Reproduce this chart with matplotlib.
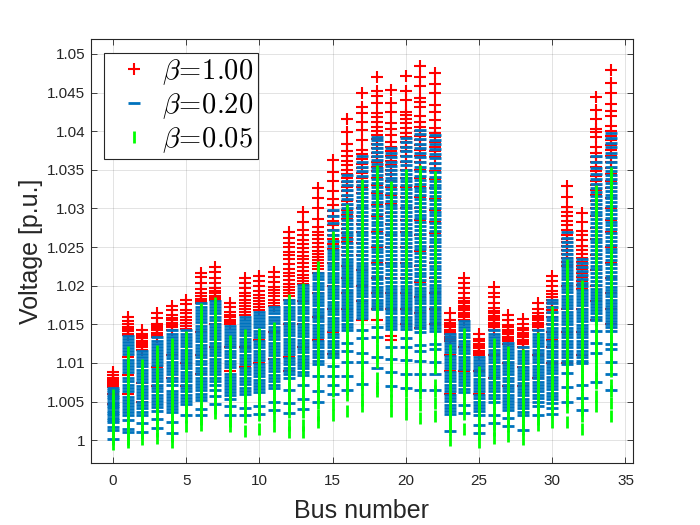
import numpy as np
import matplotlib
matplotlib.use('Agg')
import matplotlib.pyplot as plt

plt.rcParams['mathtext.fontset'] = 'cm'
plt.rcParams['font.family'] = ['Liberation Sans', 'DejaVu Sans']

# voltages stored as (V - 1) * 1e4, one list per bus (0..34)
buses = list(range(35))

red_pts = [
    [88, 84, 81, 79, 77, 75, 73, 71, 69, 60, 47],
    [160, 154, 150, 147, 144, 141, 138, 136, 108, 84, 60],
    [142, 138, 135, 132, 129, 126, 123, 120, 117, 74, 50],
    [165, 158, 151, 148, 145, 142, 139, 136, 133, 95, 70],
    [174, 168, 162, 158, 155, 152, 149, 146, 143, 110, 80],
    [182, 176, 169, 164, 160, 156, 152, 148, 144, 100, 70],
    [217, 211, 204, 196, 190, 186, 183, 180, 177, 140, 110, 85],
    [224, 218, 210, 203, 197, 193, 190, 187, 184, 181, 150, 120],
    [178, 172, 166, 162, 159, 156, 153, 150, 120, 90],
    [210, 204, 197, 190, 186, 182, 178, 174, 170, 166, 162, 120, 95],
    [212, 206, 200, 193, 188, 184, 180, 176, 172, 168, 130, 100],
    [218, 211, 205, 198, 194, 190, 186, 182, 178, 174, 140, 105],
    [270, 262, 255, 250, 244, 240, 235, 228, 222, 217, 212, 207, 202, 198, 194, 190, 186, 182, 150, 108, 90],
    [295, 283, 272, 265, 259, 254, 249, 244, 239, 234, 229, 224, 219, 214, 210, 206, 202, 180, 150, 120],
    [327, 314, 301, 286, 276, 270, 265, 260, 255, 250, 245, 241, 237, 233, 229, 225, 221, 217, 190, 160, 130],
    [363, 347, 336, 323, 312, 304, 297, 290, 284, 278, 272, 266, 260, 254, 248, 230, 200, 170, 140, 112],
    [416, 399, 384, 374, 368, 362, 356, 350, 345, 340, 334, 328, 322, 316, 310, 304, 298, 292, 286, 280,
     274, 268, 262, 256, 250, 240, 225, 210, 190, 170],
    [450, 432, 423, 412, 402, 389, 376, 370, 364, 358, 352, 346, 340, 334, 328, 320, 310, 300, 290, 280,
     270, 255, 240, 220, 200, 180, 155],
    [470, 452, 446, 437, 424, 418, 412, 405, 400, 395, 390, 384, 378, 372, 366, 360, 354, 348, 340, 330,
     320, 305, 290, 270, 250, 230, 210, 190, 170, 156],
    [454, 436, 425, 410, 403, 395, 386, 380, 374, 368, 362, 356, 350, 344, 336, 328, 318, 306, 294, 280,
     265, 250, 230, 210, 190, 170, 135, 130],
    [472, 452, 440, 425, 421, 416, 411, 404, 398, 392, 386, 380, 374, 368, 360, 350, 340, 328, 315, 300,
     285, 270, 250, 230, 210, 190, 170, 150],
    [485, 470, 458, 443, 438, 432, 420, 412, 406, 400, 394, 388, 382, 376, 368, 360, 350, 340, 328, 315,
     300, 285, 265, 245, 225, 205, 185, 165, 145],
    [476, 461, 449, 434, 425, 415, 404, 398, 392, 386, 380, 374, 366, 358, 348, 338, 326, 312, 298, 283,
     268, 250, 230, 210, 190, 170, 150],
    [165, 156, 152, 149, 146, 143, 140, 137, 134, 131, 128, 110, 90, 60],
    [210, 203, 197, 190, 184, 180, 177, 174, 171, 168, 165, 162, 159, 156, 120, 90],
    [138, 131, 128, 125, 122, 119, 116, 113, 110, 90, 60],
    [198, 191, 185, 178, 171, 167, 164, 161, 158, 155, 152, 149, 146, 143, 110, 80],
    [162, 155, 149, 146, 143, 140, 137, 134, 131, 128, 125, 100, 70],
    [157, 150, 145, 142, 139, 136, 133, 130, 127, 124, 121, 95, 70],
    [177, 170, 164, 161, 158, 155, 152, 149, 146, 143, 110, 80],
    [213, 206, 200, 193, 189, 185, 181, 177, 173, 169, 165, 160, 150, 140, 130, 120, 100],
    [329, 315, 302, 296, 290, 284, 278, 272, 266, 261, 256, 251, 246, 241, 236, 231, 226, 200, 170, 140, 100],
    [294, 283, 271, 266, 259, 252, 246, 241, 236, 231, 226, 221, 216, 211, 206, 201, 196, 170, 140, 110],
    [444, 428, 416, 403, 399, 392, 379, 372, 366, 360, 354, 348, 342, 336, 330, 324, 318, 310, 300, 290,
     275, 260, 240, 220, 200, 180, 155],
    [479, 462, 450, 435, 426, 420, 407, 400, 394, 388, 382, 376, 368, 360, 352, 344, 336, 326, 314, 300,
     285, 270, 250, 230, 210, 190, 170, 150],
]

blue_pts = [
    [67, 65, 62, 59, 56, 53, 50, 47, 44, 41, 38, 35, 32, 29, 26, 23, 17, 13, 2],
    [135, 131, 127, 123, 119, 115, 112, 104, 100, 96, 92, 88, 80, 76, 72, 68, 64, 56, 52, 48, 44, 40, 36, 32,
     26, 14, 10],
    [116, 112, 108, 104, 100, 96, 91, 87, 83, 79, 75, 70, 66, 62, 58, 54, 50, 46, 41, 37, 33, 22, 11],
    [133, 129, 125, 121, 117, 113, 109, 105, 101, 97, 92, 88, 84, 80, 76, 72, 68, 63, 59, 55, 51, 47, 43, 38,
     27, 16],
    [142, 138, 134, 130, 126, 122, 118, 114, 110, 106, 101, 97, 93, 89, 85, 81, 77, 72, 64, 60, 56, 52, 48,
     44, 40, 36, 23, 9],
    [142, 138, 134, 130, 126, 122, 117, 113, 109, 105, 101, 97, 93, 88, 84, 80, 76, 72, 68, 63, 59, 55, 51,
     47, 32],
    [177, 173, 169, 165, 161, 157, 153, 148, 144, 140, 136, 132, 128, 123, 119, 115, 111, 107, 102, 98, 94,
     90, 86, 81, 77, 73, 69, 65, 60, 56, 52, 40, 33],
    [180, 176, 172, 168, 164, 160, 156, 151, 147, 143, 139, 135, 131, 126, 122, 118, 114, 110, 105, 101, 97,
     93, 89, 85, 80, 76, 72, 65, 57, 47],
    [148, 144, 140, 136, 132, 128, 124, 120, 116, 111, 107, 103, 99, 95, 86, 82, 78, 74, 70, 66, 62, 58, 53,
     44, 32],
    [160, 156, 152, 148, 144, 140, 136, 131, 127, 123, 119, 115, 110, 106, 102, 98, 94, 89, 85, 81, 77, 73,
     68, 64, 60, 41, 32],
    [166, 162, 158, 154, 150, 146, 141, 137, 133, 129, 125, 120, 116, 112, 108, 104, 99, 95, 91, 87, 83, 78,
     74, 70, 66, 62, 44, 34],
    [172, 168, 164, 160, 156, 152, 147, 143, 139, 135, 131, 126, 122, 118, 114, 110, 105, 101, 97, 93, 89,
     84, 80, 76, 72, 67, 50, 39],
    [181, 177, 173, 169, 165, 161, 157, 152, 148, 144, 140, 136, 131, 127, 123, 119, 115, 111, 106, 102, 98,
     94, 90, 86, 81, 65, 48, 35],
    [201, 197, 193, 189, 185, 181, 177, 172, 168, 164, 160, 156, 151, 147, 143, 139, 135, 130, 126, 122, 118,
     114, 109, 105, 101, 97, 93, 88, 84, 72, 53, 40],
    [216, 212, 208, 204, 200, 196, 191, 187, 183, 179, 175, 170, 166, 162, 158, 154, 149, 145, 141, 137, 133,
     128, 124, 120, 116, 112, 107, 103, 99, 83, 63, 49],
    [298, 290, 281, 272, 265, 258, 252, 246, 242, 238, 234, 230, 226, 221, 217, 213, 209, 205, 200, 196, 192,
     188, 184, 179, 175, 171, 167, 163, 158, 154, 150, 146, 142, 137, 133, 129, 125, 121, 116, 112, 108, 96,
     83, 72, 60],
    [343, 336, 330, 324, 318, 312, 306, 300, 295, 290, 285, 280, 275, 270, 265, 260, 255, 250, 245, 240, 235,
     231, 227, 223, 219, 215, 211, 207, 203, 199, 195, 191, 187, 183, 179, 175, 171, 167, 163, 159, 155, 151,
     147, 143, 126, 115, 101, 83, 65],
    [368, 360, 354, 348, 342, 336, 330, 325, 320, 315, 310, 305, 300, 295, 290, 285, 280, 275, 270, 265, 260,
     255, 250, 245, 240, 235, 230, 226, 222, 218, 214, 210, 206, 202, 198, 194, 190, 186, 182, 178, 174, 170,
     166, 162, 158, 143, 132, 113, 101, 73],
    [393, 388, 383, 378, 373, 368, 363, 358, 353, 348, 343, 338, 333, 328, 323, 318, 313, 308, 303, 298, 293,
     288, 283, 278, 273, 268, 263, 258, 253, 248, 243, 238, 233, 228, 223, 218, 213, 208, 203, 198, 194, 190,
     186, 182, 178, 174, 170, 147, 133, 107, 94],
    [378, 372, 366, 360, 355, 350, 345, 340, 335, 330, 325, 320, 315, 310, 305, 300, 295, 290, 285, 280, 275,
     270, 265, 260, 255, 250, 245, 240, 235, 230, 225, 220, 215, 210, 205, 200, 196, 192, 188, 184, 180, 176,
     172, 168, 164, 160, 156, 152, 148, 144, 120, 105, 88, 70],
    [391, 386, 380, 374, 368, 362, 356, 350, 345, 340, 335, 330, 325, 320, 315, 310, 305, 300, 295, 290, 285,
     280, 275, 270, 265, 260, 255, 250, 245, 240, 235, 230, 225, 220, 215, 210, 205, 200, 196, 192, 188, 184,
     180, 176, 172, 168, 164, 160, 156, 152, 148, 144, 132, 121, 104, 85, 68],
    [402, 396, 390, 384, 378, 372, 366, 360, 354, 348, 342, 337, 332, 327, 322, 317, 312, 307, 302, 297, 292,
     287, 282, 277, 272, 267, 262, 257, 252, 247, 242, 237, 232, 227, 222, 217, 212, 207, 202, 197, 193, 189,
     185, 181, 177, 173, 169, 165, 161, 157, 153, 149, 145, 140, 123, 116, 102, 85, 65],
    [395, 389, 383, 377, 371, 365, 359, 353, 347, 341, 336, 331, 326, 321, 316, 311, 306, 301, 296, 291, 286,
     281, 276, 271, 266, 261, 256, 251, 246, 241, 236, 231, 226, 221, 216, 211, 206, 201, 197, 193, 189, 185,
     181, 177, 173, 169, 165, 161, 157, 153, 149, 145, 141, 124, 118, 101, 85, 65],
    [138, 134, 130, 126, 122, 118, 114, 109, 105, 101, 97, 93, 88, 84, 80, 76, 72, 67, 63, 59, 55, 51, 46, 42,
     38, 34, 12],
    [154, 150, 146, 142, 138, 134, 129, 125, 121, 117, 113, 108, 104, 100, 96, 92, 87, 83, 79, 75, 71, 66, 62,
     46, 35],
    [108, 104, 100, 96, 92, 88, 84, 79, 75, 71, 67, 63, 58, 54, 50, 46, 42, 38, 33, 20, 9],
    [142, 138, 134, 130, 126, 122, 117, 113, 109, 105, 101, 96, 92, 88, 84, 80, 75, 71, 67, 63, 59, 54, 50,
     33, 22],
    [126, 122, 118, 114, 110, 106, 101, 97, 93, 89, 85, 80, 76, 72, 68, 64, 59, 55, 51, 47, 43, 39, 29, 18],
    [120, 116, 112, 108, 104, 100, 95, 91, 87, 83, 79, 74, 70, 66, 62, 58, 53, 49, 45, 41, 37, 32, 13],
    [142, 138, 134, 130, 126, 122, 117, 113, 109, 105, 101, 96, 92, 88, 84, 80, 75, 71, 67, 63, 59, 54, 50,
     44, 33],
    [182, 178, 172, 166, 160, 155, 150, 145, 141, 137, 133, 129, 124, 120, 116, 112, 108, 103, 99, 95, 91, 87,
     82, 78, 74, 70, 66, 61, 57, 53, 48, 41, 34],
    [269, 262, 256, 251, 246, 241, 236, 232, 228, 224, 220, 216, 212, 208, 204, 200, 196, 192, 187, 183, 179,
     175, 171, 166, 162, 158, 154, 150, 145, 141, 137, 133, 129, 124, 120, 116, 112, 108, 103, 99, 87, 69, 50],
    [234, 229, 224, 219, 214, 209, 204, 199, 195, 191, 187, 183, 179, 175, 170, 166, 162, 158, 154, 149, 145,
     141, 137, 133, 128, 124, 120, 116, 112, 108, 103, 100, 72, 54, 39],
    [368, 360, 352, 345, 338, 332, 326, 321, 316, 311, 306, 301, 296, 291, 286, 281, 276, 271, 266, 261, 256,
     251, 246, 241, 236, 231, 226, 221, 216, 211, 206, 201, 196, 192, 188, 184, 180, 176, 172, 168, 164, 160,
     156, 141, 126, 113, 75],
    [398, 391, 385, 380, 372, 366, 360, 354, 348, 343, 338, 333, 328, 323, 318, 313, 308, 303, 298, 293, 288,
     283, 278, 273, 268, 263, 258, 253, 248, 243, 238, 233, 228, 223, 218, 213, 208, 203, 198, 194, 190, 186,
     182, 178, 174, 170, 166, 162, 158, 154, 150, 146, 141, 124, 118, 101, 85, 65],
]

green_pts = [
    [58, 52, 46, 40, 33, 27, 20, 14, 8, 1, -5],
    [114, 106, 98, 90, 82, 74, 66, 58, 50, 42, 34, 26, 18, 10, 2, -3],
    [97, 89, 81, 73, 65, 57, 49, 41, 33, 25, 17, 9, 1],
    [116, 108, 100, 92, 84, 76, 68, 60, 52, 44, 36, 28, 20, 12, 3],
    [125, 117, 109, 101, 93, 85, 77, 69, 61, 53, 45, 37, 29, 21, 13, 5, -3],
    [134, 126, 118, 110, 102, 94, 86, 78, 70, 62, 54, 46, 38, 30, 18],
    [170, 162, 154, 146, 138, 130, 122, 114, 106, 98, 90, 82, 74, 66, 58, 50, 42, 34, 27, 20],
    [177, 169, 161, 153, 145, 137, 129, 121, 113, 105, 97, 89, 81, 73, 65, 57, 49, 42, 35],
    [129, 121, 113, 105, 97, 89, 81, 73, 65, 57, 49, 41, 33, 25, 18],
    [136, 128, 120, 112, 104, 96, 88, 80, 72, 64, 56, 48, 40, 30, 12],
    [138, 130, 122, 114, 106, 98, 90, 82, 74, 66, 58, 50, 42, 32, 14],
    [145, 137, 129, 121, 113, 105, 97, 89, 81, 73, 65, 57, 49, 41, 33, 18],
    [181, 173, 165, 157, 149, 141, 133, 125, 117, 109, 101, 93, 85, 77, 69, 61, 53, 45, 37, 20, 10],
    [196, 188, 180, 172, 164, 156, 148, 140, 132, 124, 116, 108, 100, 92, 84, 76, 68, 60, 52, 44, 36, 20, 10],
    [224, 216, 208, 200, 192, 184, 176, 168, 160, 152, 144, 136, 128, 120, 112, 104, 96, 88, 80, 72, 64, 56,
     48, 32, 23],
    [263, 255, 247, 239, 231, 223, 215, 207, 199, 191, 183, 175, 167, 159, 151, 143, 135, 127, 119, 111, 103,
     95, 87, 79, 71, 63, 47, 32],
    [298, 290, 282, 274, 266, 258, 250, 242, 234, 226, 218, 210, 202, 194, 186, 178, 170, 162, 154, 146, 138,
     130, 122, 114, 106, 98, 90, 82, 74, 66, 58, 38],
    [330, 322, 314, 306, 298, 290, 282, 274, 266, 258, 250, 242, 234, 226, 218, 210, 202, 194, 186, 178, 170,
     162, 154, 146, 138, 130, 122, 114, 106, 98, 90, 82, 74, 66, 52, 44],
    [349, 336, 325, 317, 309, 301, 293, 285, 277, 269, 261, 253, 245, 237, 229, 221, 213, 205, 197, 189, 181,
     173, 165, 157, 149, 141, 133, 125, 117, 109, 101, 80, 68, 64],
    [328, 320, 312, 304, 296, 288, 280, 272, 264, 256, 248, 240, 232, 224, 216, 208, 200, 192, 184, 176, 168,
     160, 152, 144, 136, 128, 120, 112, 104, 96, 88, 80, 72, 64, 52, 38],
    [343, 335, 327, 319, 311, 303, 295, 287, 279, 271, 263, 255, 247, 239, 231, 223, 215, 207, 199, 191, 183,
     175, 167, 159, 151, 143, 135, 127, 119, 111, 103, 95, 87, 79, 71, 63, 48, 34],
    [349, 341, 333, 325, 317, 309, 301, 293, 285, 277, 269, 261, 253, 245, 237, 229, 221, 213, 205, 197, 189,
     181, 173, 165, 157, 149, 141, 133, 125, 117, 109, 101, 93, 85, 77, 69, 61, 45, 29],
    [341, 333, 325, 317, 309, 301, 293, 285, 277, 269, 261, 253, 245, 237, 229, 221, 213, 205, 197, 189, 181,
     173, 165, 157, 149, 141, 133, 125, 117, 109, 101, 93, 72, 64, 48, 31],
    [117, 109, 101, 93, 85, 77, 69, 61, 53, 45, 37, 29, 21, 14, 0],
    [138, 130, 122, 114, 106, 98, 90, 82, 74, 66, 58, 50, 42, 34, 14],
    [88, 80, 72, 64, 56, 48, 40, 32, 24, 16, 8, -3],
    [125, 117, 109, 101, 93, 85, 77, 69, 61, 53, 45, 37, 29, 21, 13, 3],
    [114, 106, 98, 90, 82, 74, 66, 58, 50, 42, 34, 26, 18, 5],
    [110, 102, 94, 86, 78, 70, 62, 54, 46, 38, 30, 22, 14, 1],
    [132, 124, 116, 108, 100, 92, 84, 76, 68, 60, 52, 44, 36, 28, 20],
    [166, 158, 150, 142, 134, 126, 118, 110, 102, 94, 86, 78, 70, 62, 54, 46, 38, 23],
    [227, 219, 211, 203, 195, 187, 179, 171, 163, 155, 147, 139, 131, 123, 115, 107, 99, 91, 83, 75, 67, 59,
     51, 43, 23],
    [199, 191, 183, 175, 167, 159, 151, 143, 135, 127, 119, 111, 103, 95, 87, 79, 71, 63, 55, 47, 39, 31, 14],
    [322, 314, 306, 298, 290, 282, 274, 266, 258, 250, 242, 234, 226, 218, 210, 202, 194, 186, 178, 170, 162,
     154, 146, 138, 130, 122, 114, 106, 98, 90, 82, 74, 57, 44],
    [346, 338, 330, 322, 314, 306, 298, 290, 282, 274, 266, 258, 250, 242, 234, 226, 218, 210, 202, 194, 186,
     178, 170, 162, 154, 146, 138, 130, 122, 114, 106, 98, 90, 72, 64, 48, 31],
]

labels = [r'$\beta\!=\!1.00$', r'$\beta\!=\!0.20$', r'$\beta\!=\!0.05$']


def flatten(groups):
    xs, ys = [], []
    for b, vals in zip(buses, groups):
        xs += [b] * len(vals)
        ys += [1 + v / 1e4 for v in vals]
    return np.array(xs), np.array(ys)


fig = plt.figure(figsize=(7, 5.25), dpi=100)
ax = fig.add_axes([0.13, 0.1187, 0.774, 0.807])

ax.grid(True, color='#262626', alpha=0.15, linewidth=0.6)
ax.set_axisbelow(True)

xr, yr = flatten(red_pts)
xb, yb = flatten(blue_pts)
xg, yg = flatten(green_pts)
ax.plot(xr, yr, ls='none', marker='+', ms=8.5, mew=1.5, color='#ff0000', label=labels[0])
ax.plot(xb, yb, ls='none', marker='_', ms=9, mew=2.0, color='#0072bd', label=labels[1])
ax.plot(xg, yg, ls='none', marker='|', ms=8.5, mew=2.0, color='#00ff00', label=labels[2])

ax.set_xlim(-1.5, 35.5)
ax.set_ylim(0.99708, 1.05194)
ax.set_xticks(range(0, 36, 5))
yt = np.arange(0, 51, 5)
ax.set_yticks(1 + yt / 1000)
ax.set_yticklabels(['%g' % (1 + t / 1000) for t in yt])

ax.tick_params(direction='in', top=True, right=True, length=4, width=0.6,
               colors='#262626', labelsize=11, pad=4)
ax.tick_params(axis='x', pad=8)
for s in ax.spines.values():
    s.set_color('#262626')
    s.set_linewidth(0.8)

ax.set_xlabel('Bus number', fontsize=18, color='#262626', labelpad=8)
ax.set_ylabel('Voltage [p.u.]', fontsize=18, color='#262626', labelpad=3)

leg = ax.legend(loc='upper left', bbox_to_anchor=(0.024, 0.967), borderaxespad=0,
                fontsize=20.5, handlelength=1.8, handletextpad=0.1, borderpad=0.15,
                labelspacing=0.15, fancybox=False, framealpha=1, edgecolor='#262626')
leg.get_frame().set_linewidth(0.8)

fig.savefig('out.png', dpi=100, facecolor='white')
